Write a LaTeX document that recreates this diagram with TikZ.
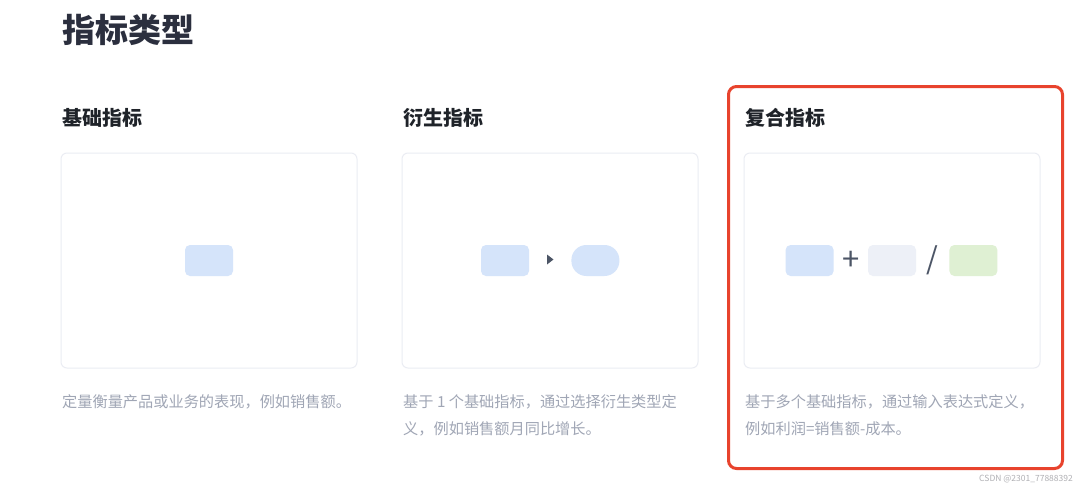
\documentclass[tikz,border=0pt]{standalone}
\usepackage{fontspec}
\setmainfont{Noto Sans CJK SC}
\usepackage{tikz}
\usetikzlibrary{
  calc,
  positioning,
}
\definecolor{titleink}{RGB}{43, 47, 62}
\definecolor{headink}{RGB}{31, 35, 41}
\definecolor{descink}{RGB}{160, 166, 181}
\definecolor{cardline}{RGB}{235, 237, 243}
\definecolor{tileblue}{RGB}{213, 228, 250}
\definecolor{tilegray}{RGB}{237, 240, 247}
\definecolor{tilegreen}{RGB}{223, 240, 211}
\definecolor{opink}{RGB}{76, 85, 102}
\definecolor{markred}{RGB}{232, 67, 45}
\definecolor{wmink}{RGB}{176, 176, 180}
\tikzstyle{card} = [
  rectangle,
  draw=cardline,
  line width=1pt,
  rounded corners=6pt,
  minimum width=296pt,
  minimum height=215pt,
]
\tikzstyle{tile} = [
  rectangle,
  rounded corners=5pt,
  minimum width=48pt,
  minimum height=31pt,
  inner sep=0pt,
]
\tikzstyle{heading} = [
  anchor=west,
  inner sep=0pt,
  text=headink,
  font=\fontsize{20}{24}\selectfont\bfseries,
]
\tikzstyle{desc} = [
  anchor=north west,
  inner sep=0pt,
  align=left,
  text=descink,
  font=\fontsize{15.2}{27}\selectfont,
]
\tikzstyle{op} = [
  inner sep=0pt,
  text=opink,
]

\begin{document}
\begin{tikzpicture}[x=1pt,y=-1pt]
      \useasboundingbox[fill=white] (0,0) rectangle (1080,488);

      \node[anchor=west,inner sep=0pt,text=titleink,font=\fontsize{33}{36}\selectfont\bfseries] (title) at (62,29.5) {指标类型};

      % three cards
      \node[heading] (head1) at (62,117.5) {基础指标};
      \node[heading] (head2) at (403,117.5) {衍生指标};
      \node[heading] (head3) at (745,117.5) {复合指标};

      \node[card] (card1) at (209,260.5) {};
      \node[card] (card2) at (550,260.5) {};
      \node[card] (card3) at (892,260.5) {};

      % card 1
      \node[tile,fill=tileblue] (tile11) at (card1) {};

      % card 2
      \node[tile,fill=tileblue] (tile21) at (505,260.5) {};
      \node[tile,fill=tileblue,rounded corners=15pt,right=42pt of tile21] (tile22) {};
      \fill[opink] (547,254.5) -- (553.5,259.5) -- (547,264.5) -- cycle;

      % card 3
      \node[tile,fill=tilegray] (tile32) at (card3) {};
      \node[tile,fill=tileblue,left=34pt of tile32] (tile31) {};
      \node[tile,fill=tilegreen,right=33pt of tile32] (tile33) {};
      \node[op,font=\fontsize{31}{31}\selectfont] (plus) at ($(tile31.east)!0.5!(tile32.west)$) {+};
      \node[op,font=\fontsize{30}{30}\selectfont] (slash) at ($(tile32.east)!0.5!(tile33.west)$) {/};

      \node[desc] (desc1) at (62,394) {定量衡量产品或业务的表现，例如销售额。};
      \node[desc] (desc2) at (403,394) {基于 1 个基础指标，通过选择衍生类型定\\义，例如销售额月同比增长。};
      \node[desc] (desc3) at (745,394) {基于多个基础指标，通过输入表达式定义，\\例如利润=销售额-成本。};

      \draw[markred,line width=3pt,rounded corners=8pt] (728.5,86.5) rectangle (1062.5,468.5);

      \node[anchor=east,inner sep=0pt,text=wmink,font=\fontsize{8.5}{9}\selectfont] (mark) at (1073,479) {CSDN @2301\_77888392};

    \end{tikzpicture}
\end{document}
